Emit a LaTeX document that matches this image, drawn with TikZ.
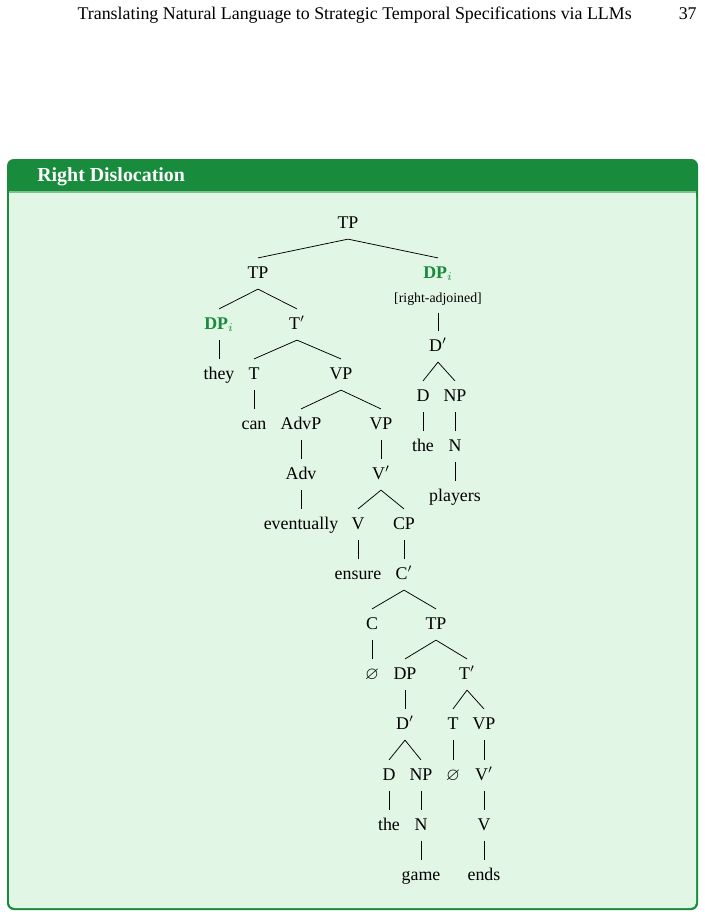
\documentclass[tikz,border=0pt]{standalone}
\usepackage{fontspec}
\setmainfont{Liberation Serif}
\usepackage{amssymb}
\usetikzlibrary{positioning}
\definecolor{boxgreen}{RGB}{24,139,61}
\definecolor{boxback}{RGB}{226,246,230}
\definecolor{sepgreen}{RGB}{120,195,140}

\begin{document}
\fontsize{10.6pt}{12.7pt}\selectfont
\begin{tikzpicture}[x=0.593pt, y=-0.593pt,
        tn/.style={anchor=base, inner sep=3.4pt, outer sep=0pt, text height=8.5pt, text depth=3.2pt},
        dpgreen/.style={tn, text=boxgreen, font=\bfseries},
        edge/.style={line width=0.45pt}]
        \useasboundingbox (0,0) rectangle (705,916);
        % running head
        \node[anchor=base east, inner sep=0pt] (hdTitle) at (632,20) {Translating Natural Language to Strategic Temporal Specifications via LLMs};
        \node[anchor=base east, inner sep=0pt] (hdPage) at (697,20) {37};
        % box
        \fill[boxgreen, rounded corners=4pt] (7,159) rectangle (698,910);
        \fill[boxback, rounded corners=3pt] (9,192) rectangle (696,908);
        \fill[boxback] (9,192) rectangle (696,200);
        \draw[sepgreen, line width=0.6pt] (9,192) -- (696,192);
        \node[anchor=base west, inner sep=0pt, text=white, font=\fontsize{11.8pt}{14pt}\bfseries] (boxTitle) at (37,181) {Right Dislocation};
        % tree
        \node[dpgreen] (dpL) at (219,329) {DP$_i$};
        \node[dpgreen] (dpR) at (438,278) {DP$_i$};
        \node[tn, font=\fontsize{8.2pt}{10pt}\selectfont] (dpRnote) at (438,302) {[right-adjoined]};
        \foreach \n/\x/\y/\t in
        {tpTop/348/228/TP,
            tpL/258/278/TP,
            tbarL/297/329/T$'$,
            dbarR/438/351/D$'$,
            they/219/379/they,
            tT/254/379/T,
            vpA/341/379/VP,
            dR/423/401/D,
            npR/455/401/NP,
            can/254/429/can,
            advp/301/429/AdvP,
            vpB/381/429/VP,
            theR/423/451/the,
            nR/455/451/N,
            adv/301/479/Adv,
            vbarA/381/479/V$'$,
            players/455/501/players,
            eventually/301/529/eventually,
            vV/358/529/V,
            cp/404/529/CP,
            ensure/358/579/ensure,
            cbar/404/579/C$'$,
            cC/372/629/C,
            tpB/436/629/TP,
            nullC/372/679/$\varnothing$,
            dpB/405/679/DP,
            tbarB/467/679/T$'$,
            dbarB/405/729/D$'$,
            tB/453/729/T,
            vpC/484/729/VP,
            dB/389/780/D,
            npB/421/780/NP,
            nullT/453/780/$\varnothing$,
            vbarB/484/780/V$'$,
            theB/389/830/the,
            nB/421/830/N,
            vB/484/830/V,
            game/421/880/game,
            ends/484/880/ends}
        {
            \node[tn] (\n) at (\x,\y) {\t};
        };
        \foreach \a/\b in
        {tpTop/tpL, tpTop/dpR, tpL/dpL, tpL/tbarL, dpL/they,
            tbarL/tT, tbarL/vpA, tT/can, vpA/advp, vpA/vpB,
            advp/adv, adv/eventually, vpB/vbarA, vbarA/vV, vbarA/cp,
            vV/ensure, cp/cbar, cbar/cC, cbar/tpB, cC/nullC,
            tpB/dpB, tpB/tbarB, dpB/dbarB, dbarB/dB, dbarB/npB,
            dB/theB, npB/nB, nB/game, tbarB/tB, tbarB/vpC,
            tB/nullT, vpC/vbarB, vbarB/vB, vB/ends,
            dpRnote/dbarR, dbarR/dR, dbarR/npR, dR/theR, npR/nR, nR/players}
        {
            \draw[edge] (\a.south) -- (\b.north);
        };
\end{tikzpicture}
\end{document}
